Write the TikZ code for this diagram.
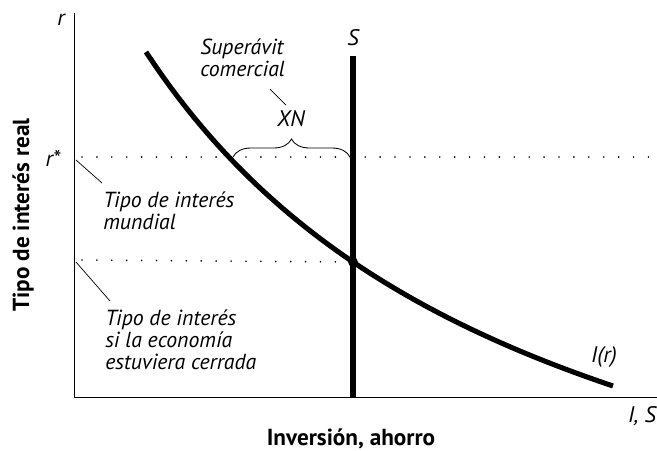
\documentclass[tikz,border=0pt]{standalone}
\usepackage{fontspec}
\setmainfont{PT Sans}
\usetikzlibrary{decorations.pathreplacing}
\tikzset{
  lbl/.style={font=\fontsize{15.5}{15.8}\selectfont\itshape, inner sep=0pt},
  varlbl/.style={font=\fontsize{16}{18}\selectfont\itshape, inner sep=0pt},
  note/.style={lbl, align=left, anchor=west},
  axlbl/.style={font=\fontsize{16.5}{18}\selectfont\bfseries, inner sep=0pt},
  dots/.style={line width=1.3pt, line cap=round, dash pattern=on 0pt off 10.6pt},
  thickline/.style={line width=3.6pt},
  leader/.style={line width=0.5pt}
}
\begin{document}
\begin{tikzpicture}[x=0.025cm, y=-0.025cm]
        \useasboundingbox (0,0) rectangle (657,450);
        % axes
        \coordinate (ytop) at (74,13);
        \coordinate (O) at (74,397);
        \coordinate (xend) at (657,397);
        \draw[line width=0.6pt] (ytop) -- (O) -- (xend);
        \node[varlbl] (rlab) at (61,20) {r};
        \node[varlbl] (rstarlab) at (53,158) {r*};
        \node[varlbl] (islab) at (642,416) {I, S};
        \node[axlbl, anchor=base] (xlab) at (351,445) {Inversión, ahorro};
        \node[axlbl, rotate=90] (ylab) at (23,215) {Tipo de interés real};
        % interest rates
        \coordinate (rw) at (82,157);
        \coordinate (rwend) at (657,157);
        \coordinate (rc) at (82,260);
        \draw[dots] (rw) -- (rwend);
        % saving
        \coordinate (stop) at (353,56);
        \coordinate (sbot) at (353,397);
        \draw[thickline] (stop) -- (sbot);
        \node[varlbl] (slab) at (353,38) {S};
        % investment
        \draw[thickline] plot[domain=1.46:6.13, samples=60]
          ({100*\x}, {682.2 - 2610.43/(\x+2.682)});
        \node[varlbl] (irlab) at (604,357) {I(r)};
        \node[circle, fill, inner sep=0pt, minimum size=7pt] (eq) at (353,262) {};
        \draw[dots] (rc) -- (eq.west);
        % trade surplus
        \coordinate (brl) at (233,157);
        \coordinate (brr) at (350,157);
        \draw[decorate, decoration={brace, amplitude=0.45cm}, line width=0.6pt] (brl) -- (brr);
        \node[varlbl] (xn) at (291,119) {XN};
        \node[note] (surplus) at (200,58) {Superávit\\comercial};
        \coordinate (sa) at (270,89);
        \coordinate (sb) at (286,105);
        \draw[leader] (sa) -- (sb);
        % notes on the axis
        \node[note] (mundial) at (103,211) {Tipo de interés\\mundial};
        \node[note] (cerrada) at (105,340) {Tipo de interés\\si la economía\\estuviera cerrada};
        \coordinate (ma) at (76,160);
        \coordinate (mb) at (102,183);
        \draw[leader] (ma) -- (mb);
        \coordinate (ca) at (76,262);
        \coordinate (cb) at (110,301);
        \draw[leader] (ca) -- (cb);
    \end{tikzpicture}
\end{document}
